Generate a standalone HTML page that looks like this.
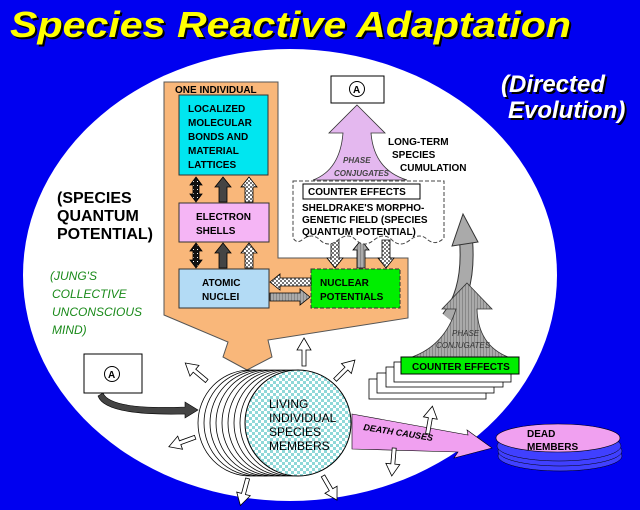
<!DOCTYPE html>
<html><head><meta charset="utf-8"><style>
html,body{margin:0;padding:0;background:#0000f0;}
svg{display:block;}
text{font-family:"Liberation Sans",Arial,sans-serif;}
</style></head><body>
<svg width="640" height="510" viewBox="0 0 640 510" xmlns="http://www.w3.org/2000/svg">
<defs>
<pattern id="chk" width="6" height="6" patternUnits="userSpaceOnUse"><rect width="6" height="6" fill="#fff"/><rect width="3" height="3" fill="#8fd8d8"/><rect x="3" y="3" width="3" height="3" fill="#8fd8d8"/></pattern>
<pattern id="chk2" width="4" height="4" patternUnits="userSpaceOnUse"><rect width="4" height="4" fill="#fff"/><rect width="2" height="2" fill="#777"/><rect x="2" y="2" width="2" height="2" fill="#777"/></pattern>
<pattern id="dots" width="4" height="4" patternUnits="userSpaceOnUse"><rect width="4" height="4" fill="#111"/><rect x="1" y="1" width="1" height="1" fill="#fff"/></pattern>
<pattern id="gr" width="3" height="3" patternUnits="userSpaceOnUse"><rect width="3" height="3" fill="#aaa"/><rect width="1" height="3" fill="#888"/></pattern>
<g id="sa"><path d="M0,-14 L7,-2 L2,-2 L2,14 L-2,14 L-2,-2 L-7,-2 Z" fill="#fff" stroke="#000" stroke-width="0.8"/></g>
</defs>
<rect width="640" height="510" fill="#0000f0"/>
<ellipse cx="290" cy="275" rx="267" ry="226" fill="#fff"/>
<text x="10" y="37" font-size="36" font-weight="bold" font-style="italic" fill="#000" textLength="561" lengthAdjust="spacingAndGlyphs" transform="translate(2,2)">Species Reactive Adaptation</text>
<text x="10" y="37" font-size="36" font-weight="bold" font-style="italic" fill="#ffff00" textLength="561" lengthAdjust="spacingAndGlyphs">Species Reactive Adaptation</text>
<g font-size="24" font-weight="bold" font-style="italic">
<text x="503" y="94" fill="#000">(Directed</text><text x="501" y="92" fill="#fff">(Directed</text>
<text x="510" y="120" fill="#000">Evolution)</text><text x="508" y="118" fill="#fff">Evolution)</text>
</g>
<g font-size="16" font-weight="bold" fill="#000">
<text x="57" y="203">(SPECIES</text><text x="57" y="221">QUANTUM</text><text x="57" y="239">POTENTIAL)</text>
</g>
<g font-size="12" font-style="italic" fill="#1a8a1a">
<text x="50" y="280">(JUNG'S</text><text x="52" y="298">COLLECTIVE</text><text x="52" y="316">UNCONSCIOUS</text><text x="52" y="334">MIND)</text>
</g>
<polygon points="164,82 278,82 278,258 408,258 408,318 268,340 272,357 247,370 223,357 228,342 164,315" fill="#f9b77a" stroke="#555" stroke-width="1"/>
<text x="175" y="93" font-size="10" font-weight="bold">ONE INDIVIDUAL</text>
<rect x="179" y="95" width="89" height="80" fill="#00e6f0" stroke="#333"/>
<g font-size="10" font-weight="bold"><text x="188" y="112">LOCALIZED</text><text x="188" y="126">MOLECULAR</text><text x="188" y="140">BONDS AND</text><text x="188" y="154">MATERIAL</text><text x="188" y="168">LATTICES</text></g>
<rect x="179" y="203" width="90" height="39" fill="#f5b5f5" stroke="#333"/>
<g font-size="10" font-weight="bold"><text x="196" y="220">ELECTRON</text><text x="196" y="234">SHELLS</text></g>
<rect x="179" y="269" width="90" height="39" fill="#b3dbf5" stroke="#333"/>
<g font-size="10" font-weight="bold"><text x="202" y="286">ATOMIC</text><text x="202" y="300">NUCLEI</text></g>
<rect x="311" y="269" width="89" height="39" fill="#00ee00" stroke="#333" stroke-dasharray="4,2"/>
<g font-size="10" font-weight="bold"><text x="320" y="286">NUCLEAR</text><text x="320" y="300">POTENTIALS</text></g>
<g stroke="#000" stroke-width="0.8">
<path d="M196,177 L202,185 L199,185 L199,194 L202,194 L196,202 L190,194 L193,194 L193,185 L190,185Z" fill="url(#dots)"/>
<path d="M223,177 L231,187 L227,187 L227,202 L219,202 L219,187 L215,187Z" fill="#444"/>
<path d="M249,177 L257,187 L253,187 L253,202 L245,202 L245,187 L241,187Z" fill="url(#chk2)"/>
<path d="M196,243 L202,251 L199,251 L199,260 L202,260 L196,268 L190,260 L193,260 L193,251 L190,251Z" fill="url(#dots)"/>
<path d="M223,243 L231,253 L227,253 L227,268 L219,268 L219,253 L215,253Z" fill="#444"/>
<path d="M249,243 L257,253 L253,253 L253,268 L245,268 L245,253 L241,253Z" fill="url(#chk2)"/>
<path d="M270,282 L280,274 L280,278 L311,278 L311,286 L280,286 L280,290Z" fill="url(#chk2)"/>
<path d="M310,297 L300,289 L300,293 L270,293 L270,301 L300,301 L300,305Z" fill="url(#gr)"/>
<path d="M335,268 L327,258 L331,258 L331,240 L339,240 L339,258 L343,258Z" fill="url(#chk2)"/>
<path d="M361,240 L369,250 L365,250 L365,268 L357,268 L357,250 L353,250Z" fill="url(#gr)"/>
<path d="M386,268 L378,258 L382,258 L382,240 L390,240 L390,258 L394,258Z" fill="url(#chk2)"/>
</g>
<rect x="331" y="76" width="53" height="27" fill="#fff" stroke="#000"/>
<circle cx="357" cy="89" r="7.5" fill="#fff" stroke="#000"/><text x="353" y="93" font-size="10" font-weight="bold">A</text>
<path d="M357,105 L385,133 L371,133 Q374,170 407,180 L313,180 Q340,170 343,133 L329,133Z" fill="#e4b8ef" stroke="#333" stroke-width="0.8"/>
<g font-size="8" font-style="italic" font-weight="bold" fill="#444"><text x="343" y="163">PHASE</text><text x="334" y="176">CONJUGATES</text></g>
<g font-size="10" font-weight="bold"><text x="388" y="145">LONG-TERM</text><text x="392" y="158">SPECIES</text><text x="400" y="171">CUMULATION</text></g>
<path d="M293,181 L444,181 L444,238 Q436,246 428,240 Q420,232 410,240 Q400,248 392,240 Q384,232 374,240 Q364,248 356,240 Q348,232 338,240 Q328,248 320,240 Q312,232 302,240 Q297,244 293,238 Z" fill="#fff" stroke="#444" stroke-dasharray="4,2"/>
<rect x="303" y="184" width="117" height="15" fill="#fff" stroke="#000"/>
<text x="308" y="195" font-size="10" font-weight="bold">COUNTER EFFECTS</text>
<g font-size="10" font-weight="bold"><text x="302" y="211">SHELDRAKE'S MORPHO-</text><text x="302" y="223">GENETIC FIELD (SPECIES</text><text x="302" y="235">QUANTUM POTENTIAL)</text></g>
<path d="M448,318 Q470,290 466,240" fill="none" stroke="#333" stroke-width="14"/>
<path d="M448,318 Q470,290 466,240" fill="none" stroke="#aaa" stroke-width="12"/>
<path d="M452,246 L463,214 L478,242Z" fill="#aaa" stroke="#333"/>
<g fill="#fff" stroke="#000" stroke-width="0.8">
<rect x="369" y="379" width="117" height="20"/><rect x="377" y="373" width="117" height="20"/><rect x="386" y="367" width="117" height="20"/><rect x="394" y="362" width="117" height="20"/>
</g>
<path d="M467,283 L492,309 L477,309 Q478,345 508,357 L412,357 Q445,345 456,309 L442,309Z" fill="url(#gr)" stroke="#333" stroke-width="0.8"/>
<g font-size="8" font-style="italic" fill="#333"><text x="452" y="336">PHASE</text><text x="436" y="348">CONJUGATES</text></g>
<rect x="401" y="357" width="118" height="17" fill="#00ee00" stroke="#000"/>
<text x="412" y="370" font-size="10" font-weight="bold">COUNTER EFFECTS</text>
<rect x="84" y="354" width="58" height="39" fill="#fff" stroke="#000"/>
<circle cx="112" cy="374" r="7.5" fill="#fff" stroke="#000"/><text x="108" y="378" font-size="10" font-weight="bold">A</text>
<path d="M103,393 Q110,410 185,407 L185,402 L198,410 L185,418 L185,414 Q105,416 98,396Z" fill="#444" stroke="#000" stroke-width="0.6"/>
<g fill="#fff" stroke="#000" stroke-width="0.8">
<ellipse cx="250" cy="423" rx="52" ry="53"/><ellipse cx="256" cy="423" rx="52" ry="53"/><ellipse cx="262" cy="423" rx="52" ry="53"/><ellipse cx="268" cy="423" rx="52" ry="53"/><ellipse cx="274" cy="423" rx="52" ry="53"/><ellipse cx="280" cy="423" rx="52" ry="53"/><ellipse cx="286" cy="423" rx="52" ry="53"/><ellipse cx="292" cy="423" rx="52" ry="53"/>
</g>
<ellipse cx="298" cy="423" rx="53" ry="53" fill="url(#chk)" stroke="#000"/>
<g font-size="12" fill="#000"><text x="269" y="408">LIVING</text><text x="269" y="422">INDIVIDUAL</text><text x="269" y="436">SPECIES</text><text x="269" y="450">MEMBERS</text></g>
<path d="M352,414 L468,435 L467,430 L492,448 L454,458 L458,452 L352,449Z" fill="#f0a0f0" stroke="#000" stroke-width="0.6"/>
<text x="363" y="430" font-size="9" font-weight="bold" font-style="italic" transform="rotate(9 363 430)">DEATH CAUSES</text>
<g fill="#4040ff" stroke="#000" stroke-width="0.5">
<ellipse cx="560" cy="456" rx="62" ry="15"/><ellipse cx="560" cy="451" rx="62" ry="15"/><ellipse cx="559" cy="446" rx="62" ry="15"/>
</g>
<ellipse cx="558" cy="438" rx="62" ry="14" fill="#f0a0f0" stroke="#000" stroke-width="0.6"/>
<g font-size="10" font-weight="bold"><text x="527" y="437">DEAD</text><text x="527" y="450">MEMBERS</text></g>
<use href="#sa" transform="translate(304,352)"/>
<use href="#sa" transform="translate(196,372) rotate(-50)"/>
<use href="#sa" transform="translate(345,370) rotate(45)"/>
<use href="#sa" transform="translate(182,442) rotate(-110)"/>
<use href="#sa" transform="translate(244,492) rotate(195)"/>
<use href="#sa" transform="translate(330,488) rotate(150)"/>
<use href="#sa" transform="translate(393,462) rotate(185)"/>
<use href="#sa" transform="translate(430,420) rotate(10)"/>
</svg>
</body></html>
